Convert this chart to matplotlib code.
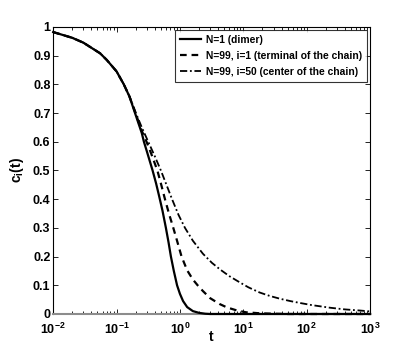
import matplotlib
matplotlib.use('Agg')
import matplotlib.pyplot as plt
import numpy as np

# values (t on a log axis, c_i(t))
t_dimer = [0.01, 0.02, 0.03, 0.055, 0.07, 0.1, 0.13, 0.16, 0.206, 0.25, 0.27, 0.3, 0.37, 0.42, 0.47,
           0.53, 0.6, 0.66, 0.72, 0.8, 0.9, 1.0, 1.12, 1.3, 1.6, 2.0, 2.5, 3.0, 10, 100, 1000]
c_dimer = [0.982, 0.962, 0.945, 0.908, 0.885, 0.845, 0.80, 0.757, 0.685, 0.63, 0.60, 0.567, 0.50, 0.455, 0.41,
           0.36, 0.30, 0.25, 0.20, 0.15, 0.10, 0.07, 0.045, 0.024, 0.01, 0.004, 0.001, 0.0, 0.0, 0.0, 0.0]

t_term = [0.01, 0.02, 0.03, 0.055, 0.07, 0.1, 0.13, 0.16, 0.206, 0.25, 0.297, 0.35, 0.44, 0.5, 0.58,
          0.67, 0.785, 0.9, 1.06, 1.3, 1.6, 1.9, 2.3, 3.0, 4.2, 5.5, 8, 11, 18, 30, 50, 100, 1000]
c_term = [0.982, 0.962, 0.945, 0.908, 0.885, 0.845, 0.80, 0.757, 0.69, 0.638, 0.60, 0.56, 0.50, 0.455, 0.40,
          0.35, 0.30, 0.255, 0.20, 0.152, 0.12, 0.10, 0.08, 0.055, 0.035, 0.023, 0.012, 0.006, 0.0025, 0.001, 0.0, 0.0, 0.0]

t_cent = [0.01, 0.02, 0.03, 0.055, 0.07, 0.1, 0.13, 0.16, 0.206, 0.25, 0.316, 0.4, 0.5, 0.6, 0.75, 0.95,
          1.2, 1.6, 2.3, 3.2, 4.3, 6, 8.8, 12, 18, 26, 38, 55, 80, 120, 230, 400, 700, 1000]
c_cent = [0.982, 0.962, 0.945, 0.908, 0.885, 0.845, 0.80, 0.758, 0.695, 0.65, 0.60, 0.55, 0.50, 0.455, 0.40, 0.345,
          0.30, 0.255, 0.21, 0.178, 0.155, 0.132, 0.11, 0.093, 0.075, 0.063, 0.053, 0.045, 0.038, 0.031, 0.022, 0.016, 0.012, 0.009]

labels = ['N=1 (dimer)', 'N=99, i=1 (terminal of the chain)', 'N=99, i=50 (center of the chain)']

plt.rcParams['font.family'] = ['Liberation Sans', 'DejaVu Sans']
plt.rcParams['font.weight'] = 'bold'
plt.rcParams['mathtext.fontset'] = 'custom'
plt.rcParams['mathtext.bf'] = 'Liberation Sans:bold'
plt.rcParams['mathtext.rm'] = 'Liberation Sans:bold'
plt.rcParams['mathtext.default'] = 'bf'

fig = plt.figure(figsize=(4.09, 3.54), dpi=100)
ax = fig.add_axes([0.130, 0.113, 0.775, 0.811])

ax.plot(t_dimer, c_dimer, '-', color='black', lw=1.6, label=labels[0], clip_on=False, zorder=3)
ax.plot(t_term, c_term, '--', color='black', lw=1.6, dashes=(3, 2.2), label=labels[1], clip_on=False, zorder=3)
ax.plot(t_cent, c_cent, '-.', color='black', lw=1.3, dashes=(4, 1.5, 1, 1.5), label=labels[2], clip_on=False, zorder=3)

ax.set_xscale('log')
ax.set_xlim(1e-2, 1e3)
ax.set_ylim(0, 1)
ax.set_yticks(np.arange(0, 1.01, 0.1))
ax.set_yticklabels(['0', '0.1', '0.2', '0.3', '0.4', '0.5', '0.6', '0.7', '0.8', '0.9', '1'])
ax.set_xticks([1e-2, 1e-1, 1e0, 1e1, 1e2, 1e3])
ax.set_xticklabels(['$10^{-2}$', '$10^{-1}$', '$10^{0}$', '$10^{1}$', '$10^{2}$', '$10^{3}$'])
ax.tick_params(which='both', direction='in', top=True, right=True, labelsize=9, width=0.6)
ax.tick_params(which='major', length=3.5)
ax.tick_params(which='minor', length=2)
ax.tick_params(axis='x', pad=5.5)
ax.tick_params(axis='y', pad=2)
for s in ax.spines.values():
    s.set_linewidth(0.8)
ax.spines['bottom'].set_color('0.55')
ax.spines['bottom'].set_linewidth(1.5)

ax.set_xlabel('t', fontsize=10, fontweight='bold', labelpad=-5)
ax.set_ylabel('$\\mathbf{c_i(t)}$', fontsize=10, labelpad=5)

leg = ax.legend(loc='upper right', fontsize=7.4, frameon=True, fancybox=False,
                edgecolor='black', handlelength=2.1, borderaxespad=0.3,
                labelspacing=0.6, handletextpad=0.5, borderpad=0.45)
leg.get_frame().set_linewidth(0.8)

fig.savefig('out.png', dpi=100)
